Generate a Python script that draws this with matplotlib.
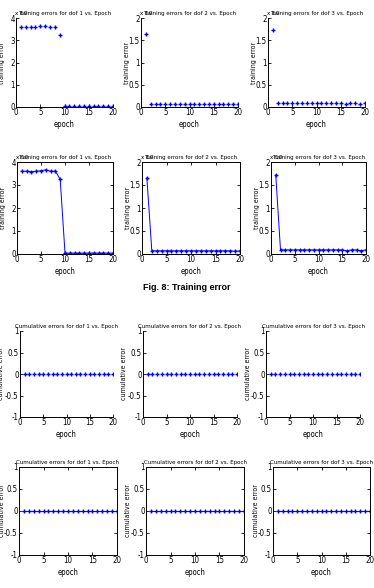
import matplotlib
matplotlib.use("Agg")
import matplotlib.pyplot as plt
import numpy as np

plt.rcParams['font.family'] = ['DejaVu Sans']
plt.rcParams['font.stretch'] = 'condensed'

epochs = list(range(1, 21))
train_dof1 = [3.60, 3.60, 3.58, 3.60, 3.62, 3.66, 3.60, 3.60, 3.25, 0.04,
              0.04, 0.04, 0.04, 0.04, 0.04, 0.04, 0.04, 0.04, 0.04, 0.04]
train_dof2 = [1.65, 0.07, 0.07, 0.07, 0.07, 0.07, 0.07, 0.07, 0.07, 0.07,
              0.07, 0.07, 0.07, 0.07, 0.07, 0.07, 0.07, 0.07, 0.06, 0.07]
train_dof3 = [1.72, 0.09, 0.09, 0.09, 0.09, 0.09, 0.09, 0.09, 0.09, 0.09,
              0.09, 0.09, 0.09, 0.09, 0.09, 0.07, 0.09, 0.09, 0.07, 0.09]
cum_dof1 = [0.0] * 20
cum_dof2 = [0.0] * 20
cum_dof3 = [0.0] * 20

train_series = [train_dof1, train_dof2, train_dof3]
cum_series = [cum_dof1, cum_dof2, cum_dof3]
train_ylims = [(0, 4), (0, 2), (0, 2)]
train_yticks = [[0, 1, 2, 3, 4], [0, 0.5, 1, 1.5, 2], [0, 0.5, 1, 1.5, 2]]
train_yticklabels = [["0", "1", "2", "3", "4"], ["0", "0.5", "1", "1.5", "2"], ["0", "0.5", "1", "1.5", "2"]]
cum_yticks = [-1, -0.5, 0, 0.5, 1]
cum_yticklabels = ["-1", "-0.5", "0", "0.5", "1"]
xticks = [0, 5, 10, 15, 20]
caption = "Fig. 8: Training error"

W, H = 374, 588
fig = plt.figure(figsize=(W / 100, H / 100), dpi=100)

def add_ax(l, r, t, b):
    return fig.add_axes([l / W, 1 - b / H, (r - l) / W, (b - t) / H])

rows = [
    dict(tb=(18, 107), cols=[(16, 113), (141, 238), (268, 365)], kind="train", line=False, off=11),
    dict(tb=(162, 254), cols=[(17, 113), (142, 240), (271, 366)], kind="train", line=True, off=11),
    dict(tb=(331, 417), cols=[(20, 113), (143, 237), (266, 360)], kind="cum", line=False, off=15.5),
    dict(tb=(467, 555), cols=[(19, 117), (146, 244), (273, 370)], kind="cum", line=True, off=14.5),
]

fs = 5.7
tfs = 4.4
for row in rows:
    t, b = row["tb"]
    lab_off = row["off"]
    for i, (l, r) in enumerate(row["cols"]):
        ax = add_ax(l, r, t, b)
        if row["kind"] == "train":
            ys = train_series[i]
            title = f"Training errors for dof {i+1} vs. Epoch"
            ylabel = "training error"
            ax.set_ylim(*train_ylims[i])
            ax.set_yticks(train_yticks[i])
            ax.set_yticklabels(train_yticklabels[i])
        else:
            ys = cum_series[i]
            title = f"Cumulative errors for dof {i+1} vs. Epoch"
            ylabel = "cumulative error"
            ax.set_ylim(-1, 1)
            ax.set_yticks(cum_yticks)
            ax.set_yticklabels(cum_yticklabels)
        ax.plot(epochs, ys, linestyle='-' if row["line"] else 'none',
                marker='+', color='#0000ff', markersize=3.5, markeredgewidth=1.0,
                linewidth=0.7)
        ax.set_xlim(0, 20)
        ax.set_xticks(xticks)
        ax.set_title(title, fontsize=tfs, pad=2.5)
        ax.set_xlabel("epoch", fontsize=5.5, labelpad=2)
        ax.set_ylabel(ylabel, fontsize=5.0)
        ax.yaxis.set_label_coords(-lab_off / (r - l), 0.5)
        ax.tick_params(direction='in', length=2, width=0.6, labelsize=fs, pad=1.0,
                       top=row["line"], right=row["line"])
        for s in ax.spines.values():
            s.set_linewidth(0.7)
        if not row["line"]:
            ax.spines['top'].set_visible(False)
            ax.spines['right'].set_visible(False)
        if row["kind"] == "train":
            ax.text(-0.01, 1.02, "x 10", transform=ax.transAxes, fontsize=4.5,
                    ha='left', va='bottom')

fig.text(143 / W, 1 - 287 / H, caption, fontsize=6.5, fontweight='bold',
         ha='left', va='center', family=['Liberation Sans', 'DejaVu Sans'],
         fontstretch='normal')

fig.savefig("out.png", dpi=100)
